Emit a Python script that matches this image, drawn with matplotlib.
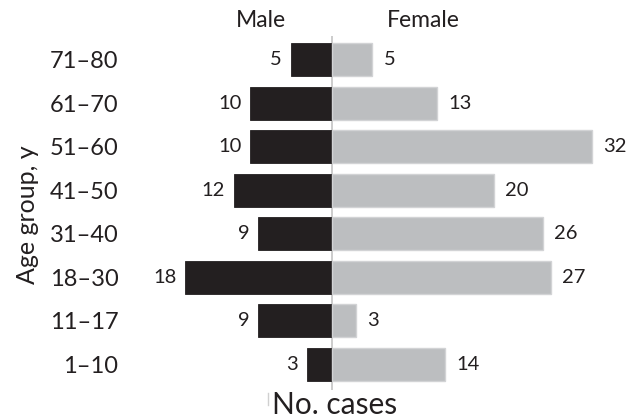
import matplotlib
matplotlib.use("Agg")
import matplotlib.pyplot as plt
from matplotlib.lines import Line2D

plt.rcParams['font.family'] = ['Lato', 'DejaVu Sans']

# age groups, bottom to top
ages = ["1\u201310", "11\u201317", "18\u201330", "31\u201340",
        "41\u201350", "51\u201360", "61\u201370", "71\u201380"]
male = [3, 9, 18, 9, 12, 10, 10, 5]
female = [14, 3, 27, 26, 20, 32, 13, 5]

txt = "#231f20"
male_col = "#231f20"
fem_col = "#bcbec0"

fig = plt.figure(figsize=(6.35, 4.19), dpi=100)
ax = fig.add_axes([160 / 635, 29 / 419, 465 / 635, 354 / 419])

pos = list(range(len(ages)))
ax.barh(pos, [-m for m in male], height=0.757, color=male_col, edgecolor=male_col, linewidth=0.6)
ax.barh(pos, female, height=0.757, color=fem_col, edgecolor="#d2d3d5", linewidth=1.0)
ax.axvline(0, color="#c8c8c8", linewidth=1.3, zorder=0.5)

for p, m, f in zip(pos, male, female):
    ax.text(-m - 1.1, p, str(m), ha="right", va="center", fontsize=14.5, color=txt)
    ax.text(f + 1.4, p, str(f), ha="left", va="center", fontsize=14.5, color=txt)

ax.set_xlim(-21.1, 36.1)
ax.set_ylim(-0.585, 7.539)
ax.set_yticks(pos)
ax.set_yticklabels(ages, fontsize=17, color=txt)
ax.tick_params(axis="y", length=0, pad=30)
ax.set_xticks([])
for s in ax.spines.values():
    s.set_visible(False)

fig.text(261 / 635, 1 - 27 / 419, "Male", ha="center", va="baseline", fontsize=16.5, color=txt)
fig.text(423 / 635, 1 - 27 / 419, "Female", ha="center", va="baseline", fontsize=16.5, color=txt)
fig.text(334.5 / 635, 5 / 419, "No. cases", ha="center", va="baseline", fontsize=21.5, color=txt)
fig.text(35 / 635, 1 - 214.5 / 419, "Age group, y", ha="center", va="baseline",
         rotation=90, rotation_mode="anchor", fontsize=18, color=txt)

# faint stray tick left of the x label
fig.add_artist(Line2D([268 / 635, 268 / 635], [1 - 393 / 419, 1 - 405 / 419],
                      color="#d0d0d0", linewidth=1))

fig.savefig("out.png", dpi=100)
